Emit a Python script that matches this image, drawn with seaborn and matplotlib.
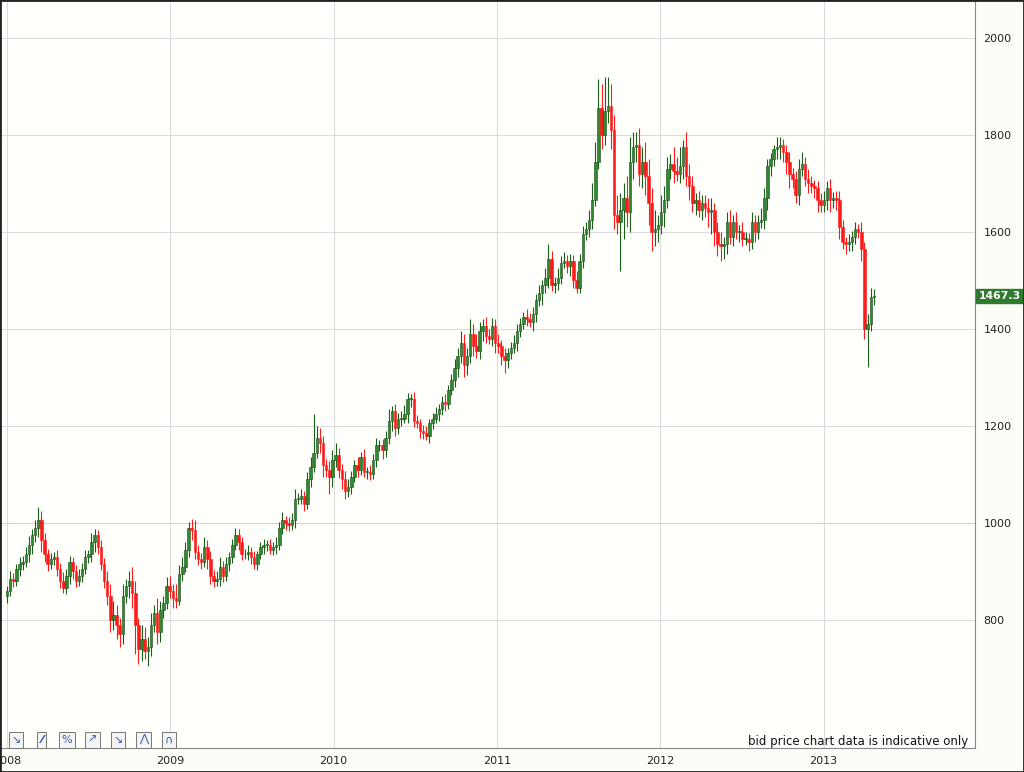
import numpy as np
import pandas as pd
import matplotlib
matplotlib.use("Agg")
import matplotlib.pyplot as plt
import seaborn as sns
from matplotlib.patches import Rectangle

# Weekly closes, Jan 2008 - Apr 2013
c2008 = [860,885,880,905,915,920,935,955,975,990,1005,965,935,915,925,930,905,880,865,890,
         920,900,880,890,905,930,935,960,975,950,915,880,850,800,810,790,770,850,870,880,
         855,790,740,760,735,745,790,815,775,820,835,870]
c2009 = [860,845,840,895,910,945,990,985,940,925,920,950,925,890,880,885,910,890,915,930,
         955,975,960,935,935,940,930,915,935,950,955,955,945,950,955,990,1005,1000,995,1005,
         1050,1050,1055,1040,1090,1115,1145,1175,1165,1120,1110,1095]
c2010 = [1130,1140,1110,1090,1065,1075,1095,1120,1110,1135,1105,1105,1100,1130,1160,1160,1150,
         1175,1210,1230,1195,1215,1215,1225,1255,1255,1210,1205,1190,1185,1180,1205,1215,1225,
         1235,1250,1245,1275,1295,1320,1345,1370,1325,1345,1390,1365,1355,1395,1405,1385,1380,1405]
c2011 = [1370,1365,1345,1335,1350,1360,1370,1395,1410,1425,1420,1415,1430,1460,1475,1490,1505,
         1545,1490,1495,1505,1535,1540,1530,1540,1500,1485,1540,1595,1605,1625,1665,1745,1855,
         1800,1850,1860,1810,1635,1620,1645,1670,1640,1745,1775,1780,1720,1745,1715,1660,1600,1605]
c2012 = [1615,1640,1665,1730,1740,1725,1720,1735,1775,1715,1695,1660,1665,1645,1660,1650,1640,
         1645,1600,1575,1570,1575,1620,1590,1620,1600,1600,1585,1585,1580,1620,1600,1620,1625,
         1670,1735,1750,1770,1775,1780,1765,1745,1720,1710,1675,1730,1740,1710,1700,1695,1690,1665]
c2013 = [1655,1665,1690,1665,1670,1665,1610,1580,1575,1580,1590,1605,1600,1565,1400,1410,1465,1467]

up_wick = [10,15,12,10,14,12,15,18,12,15,27,20,15,12,14,10,15,12,18,15,12,10,14,16,12,15,10,20,12,10,15,12,20,25,30,20,15,25,15,20,30,25,15,30,25,20,25,15,30,20,15,18,
           20,15,30,18,20,15,12,18,20,15,12,20,15,18,12,15,20,12,15,10,12,15,12,10,12,15,10,12,8,10,12,10,12,10,15,12,18,10,12,15,20,12,15,10,15,20,80,25,20,15,12,18,
           20,25,15,12,18,15,12,10,15,12,18,10,15,12,15,10,12,15,25,12,15,12,15,18,12,10,15,12,10,12,15,10,12,15,10,12,15,10,12,18,15,25,20,15,30,20,25,20,15,20,15,18,
           15,20,12,15,10,12,18,15,12,10,15,12,15,12,15,10,20,30,15,12,20,15,18,12,15,12,20,15,18,15,20,35,40,60,50,70,60,45,30,40,35,30,45,50,30,25,35,30,40,35,30,40,
           20,35,30,25,20,35,30,40,15,30,25,20,15,20,15,15,20,25,15,20,25,15,20,25,15,20,15,20,15,12,20,15,15,25,20,15,12,10,20,15,12,15,20,12,15,20,25,15,20,15,12,15,
           15,20,15,20,12,15,20,15,10,15,12,15,12,20,15,20,20,15]
dn_wick = [15,10,12,10,15,12,10,15,20,15,20,25,15,15,10,12,15,15,10,12,15,15,12,10,12,10,12,15,20,15,12,15,20,25,20,30,25,20,15,25,30,60,30,25,15,30,20,15,25,20,15,12,
           15,20,15,10,15,12,15,20,15,12,15,10,20,15,12,10,15,12,10,15,12,10,15,12,10,12,15,10,12,10,15,12,10,12,15,10,12,15,12,10,15,12,10,15,12,15,10,12,20,25,15,35,
           20,15,18,20,15,12,15,10,15,12,10,15,12,10,15,12,18,15,12,20,15,12,15,10,20,15,12,10,15,12,10,15,12,10,15,12,15,10,12,15,20,15,25,20,15,20,15,18,20,15,12,15,
           20,15,20,25,15,12,10,15,12,10,15,12,20,15,12,25,15,20,12,15,15,12,10,15,20,15,12,10,15,12,15,20,12,15,30,20,25,40,30,25,100,60,30,40,35,30,25,30,40,45,40,30,
           25,20,30,15,20,25,15,20,25,20,30,20,25,15,20,20,30,45,30,25,30,25,20,15,20,15,20,15,12,20,15,20,15,12,20,25,20,15,20,25,20,25,30,20,15,20,15,15,20,15,20,25,
           15,15,20,25,15,20,25,15,20,15,20,15,12,25,20,79,15,15]

tick_years = [2008, 2009, 2010, 2011, 2012, 2013]
y_ticks = [800, 1000, 1200, 1400, 1600, 1800, 2000]
last_price = "1467.3"
note = "bid price chart data is indicative only"

close = np.array(c2008 + c2009 + c2010 + c2011 + c2012 + c2013, dtype=float)
opens = np.concatenate([[850.0], close[:-1]])
high = np.maximum(opens, close) + np.array(up_wick[:len(close)], dtype=float)
low = np.minimum(opens, close) - np.array(dn_wick[:len(close)], dtype=float)
x = 2008.0 + np.arange(len(close)) / 52.18
df = pd.DataFrame({"x": x, "open": opens, "close": close, "high": high, "low": low})
df["up"] = df["close"] >= df["open"]

sns.set_style("white")
fig = plt.figure(figsize=(10.24, 7.72), dpi=100)
fig.patch.set_facecolor("#fdfdf8")
ax = fig.add_axes([0, 24/772, 975/1024, 748/772])
ax.set_facecolor("#fffffc")

for yv in y_ticks:
    ax.axhline(yv, color="#d9d2c0" if yv == 1000 else "#dcdcdc", lw=0.8, zorder=0)
for xv in tick_years:
    ax.axvline(xv, color="#dcdcdc", lw=0.8, zorder=0)

green, red = "#2f8a2f", "#ff1a1a"
w = 0.8 / 52.18
for _, r in df.iterrows():
    col = green if r.up else red
    ax.vlines(r.x, r.low, r.high, color="#1a5e1a" if r.up else red, lw=0.8, zorder=2)
    b0 = min(r.open, r.close)
    h = max(abs(r.close - r.open), 1.5)
    ax.add_patch(Rectangle((r.x - w/2, b0), w, h, facecolor=col,
                           edgecolor="#1a4d1a" if r.up else red, lw=0.4, zorder=3))

ax.set_xlim(2008 - 7/163.3, 2008 + 968/163.3)
ax.set_ylim(536, 2078)
ax.set_xticks(tick_years)
ax.set_xticklabels([str(t) for t in tick_years])
ax.yaxis.tick_right()
ax.set_yticks(y_ticks)
ax.tick_params(axis="both", labelsize=8, length=0, pad=6, colors="#222222")
for s in ax.spines.values():
    s.set_color("#888888")
    s.set_linewidth(0.8)

# last price tag
ax.annotate(last_price, xy=(1.0, 1467.3), xycoords=("axes fraction", "data"),
            xytext=(2.5, 0), textcoords="offset points", va="center", ha="left",
            fontsize=7.8, fontweight="bold", color="white",
            bbox=dict(boxstyle="square,pad=0.2", fc="#2f7a2f", ec="#2f7a2f"))

fig.text(968/1024, 1 - 742/772, note, ha="right", va="center", fontsize=8.5, color="#111111")

icons = ["↘", "⁄⁄", "%", "↗", "↘", "⋀", "∩"]
for i, s in enumerate(icons):
    fig.text((16 + i*25.5)/1024, 1 - 740/772, s, ha="center", va="center", fontsize=8,
             color="#3355aa",
             bbox=dict(boxstyle="square,pad=0.25", fc="#f4f4f4", ec="#777777", lw=0.7))

fig.add_artist(Rectangle((0, 0), 1, 1, transform=fig.transFigure, fill=False,
                         ec="#222222", lw=2))
fig.savefig("out.png", dpi=100)
